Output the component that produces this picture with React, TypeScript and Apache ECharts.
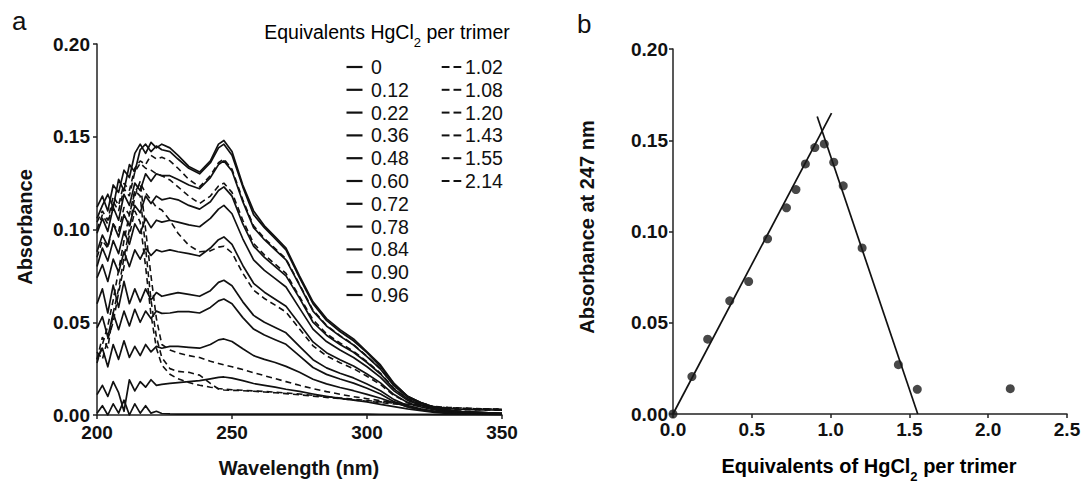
import React, { useEffect, useRef } from 'react';
import * as echarts from 'echarts';

const FONT = '"Liberation Sans", Arial, Helvetica, sans-serif';

// ---------- Panel a: UV spectra ----------
const WAVELENGTHS = [200, 202, 204, 206, 208, 210, 212, 214, 216, 218, 220, 222, 224, 227, 230, 234, 238, 242, 245, 247, 250, 254, 258, 262, 266, 270, 275, 280, 285, 290, 295, 300, 305, 310, 315, 320, 325, 330, 335, 340, 345, 350];

const spec000 = [0.001, 0.005, 0.000, 0.006, 0.001, 0.008, 0.000, 0.006, 0.001, 0.005, 0.001, 0.002, 0.0008, 0.0006, 0.0005, 0.0005, 0.0005, 0.0005, 0.0005, 0.0005, 0.0005, 0.0005, 0.0005, 0.0005, 0.0005, 0.0005, 0.0005, 0.0005, 0.0005, 0.0005, 0.0005, 0.0005, 0.0004, 0.0004, 0.0004, 0.0004, 0.0003, 0.0003, 0.0003, 0.0003, 0.0003, 0.0003];
const spec012 = [0.011, 0.016, 0.010, 0.018, 0.012, 0.002, 0.019, 0.013, 0.018, 0.015, 0.019, 0.016, 0.0165, 0.017, 0.0175, 0.018, 0.0185, 0.0195, 0.0203, 0.0205, 0.0199, 0.0185, 0.017, 0.016, 0.015, 0.0139, 0.0127, 0.0113, 0.010, 0.009, 0.008, 0.007, 0.0057, 0.0045, 0.0033, 0.0023, 0.0014, 0.0009, 0.0006, 0.0004, 0.0003, 0.0002];
const spec022 = [0.030, 0.036, 0.026, 0.038, 0.030, 0.040, 0.031, 0.037, 0.032, 0.038, 0.034, 0.037, 0.036, 0.037, 0.037, 0.0365, 0.036, 0.038, 0.0405, 0.041, 0.0396, 0.0357, 0.032, 0.030, 0.0283, 0.0262, 0.023, 0.0193, 0.0168, 0.0148, 0.0131, 0.0111, 0.009, 0.0066, 0.0045, 0.0029, 0.0018, 0.0012, 0.0008, 0.0006, 0.0005, 0.0004];
const spec036 = [0.047, 0.053, 0.042, 0.055, 0.046, 0.056, 0.048, 0.057, 0.050, 0.056, 0.052, 0.056, 0.0548, 0.055, 0.0557, 0.0557, 0.055, 0.058, 0.0615, 0.0625, 0.060, 0.0525, 0.0463, 0.0431, 0.0406, 0.0381, 0.0319, 0.0256, 0.0219, 0.0194, 0.0172, 0.0144, 0.0113, 0.0072, 0.0044, 0.0028, 0.0018, 0.0011, 0.0008, 0.0006, 0.0005, 0.0004];
const spec048 = [0.060, 0.068, 0.055, 0.070, 0.058, 0.072, 0.060, 0.068, 0.061, 0.068, 0.062, 0.066, 0.064, 0.065, 0.066, 0.065, 0.064, 0.067, 0.0715, 0.0726, 0.0697, 0.061, 0.0537, 0.050, 0.0472, 0.0443, 0.037, 0.0298, 0.0254, 0.0225, 0.020, 0.0167, 0.0131, 0.0083, 0.0051, 0.0033, 0.002, 0.0013, 0.0009, 0.0007, 0.0006, 0.0005];
const spec060 = [0.074, 0.081, 0.072, 0.084, 0.077, 0.088, 0.080, 0.089, 0.084, 0.090, 0.086, 0.089, 0.088, 0.089, 0.088, 0.087, 0.0857, 0.090, 0.0945, 0.096, 0.092, 0.0806, 0.071, 0.0662, 0.0624, 0.0586, 0.049, 0.0394, 0.0336, 0.0298, 0.0264, 0.0221, 0.0173, 0.011, 0.0067, 0.0043, 0.0027, 0.0017, 0.0012, 0.001, 0.0008, 0.0006];
const spec072 = [0.080, 0.090, 0.083, 0.094, 0.087, 0.099, 0.092, 0.103, 0.098, 0.106, 0.101, 0.105, 0.104, 0.105, 0.104, 0.1025, 0.1015, 0.106, 0.111, 0.113, 0.1085, 0.095, 0.0836, 0.078, 0.0735, 0.069, 0.0576, 0.0463, 0.0396, 0.035, 0.031, 0.026, 0.0203, 0.013, 0.0079, 0.0051, 0.0032, 0.002, 0.0015, 0.0011, 0.0009, 0.0007];
const spec078 = [0.088, 0.097, 0.091, 0.103, 0.096, 0.108, 0.102, 0.113, 0.109, 0.118, 0.114, 0.118, 0.116, 0.117, 0.116, 0.113, 0.111, 0.115, 0.121, 0.123, 0.118, 0.103, 0.091, 0.085, 0.080, 0.075, 0.063, 0.050, 0.043, 0.038, 0.0338, 0.0283, 0.0221, 0.0141, 0.0086, 0.0055, 0.0034, 0.0022, 0.0016, 0.0012, 0.001, 0.0007];
const spec084 = [0.098, 0.106, 0.099, 0.112, 0.105, 0.119, 0.113, 0.125, 0.121, 0.130, 0.126, 0.130, 0.129, 0.129, 0.127, 0.124, 0.122, 0.128, 0.135, 0.137, 0.1315, 0.115, 0.101, 0.0945, 0.089, 0.0836, 0.070, 0.056, 0.048, 0.0425, 0.0377, 0.0315, 0.0247, 0.0158, 0.0096, 0.0062, 0.0038, 0.0025, 0.0018, 0.0014, 0.0011, 0.0008];
const spec090 = [0.106, 0.113, 0.119, 0.112, 0.127, 0.121, 0.135, 0.131, 0.143, 0.146, 0.142, 0.145, 0.143, 0.142, 0.138, 0.133, 0.130, 0.136, 0.144, 0.146, 0.140, 0.123, 0.108, 0.101, 0.095, 0.089, 0.074, 0.060, 0.051, 0.045, 0.040, 0.0336, 0.026, 0.0168, 0.0102, 0.0066, 0.0041, 0.0026, 0.0019, 0.0015, 0.0012, 0.0009];
const spec096 = [0.112, 0.118, 0.110, 0.124, 0.120, 0.132, 0.128, 0.141, 0.146, 0.141, 0.147, 0.144, 0.146, 0.144, 0.140, 0.134, 0.131, 0.137, 0.146, 0.148, 0.142, 0.124, 0.110, 0.102, 0.096, 0.090, 0.075, 0.061, 0.052, 0.046, 0.041, 0.034, 0.027, 0.017, 0.010, 0.0067, 0.0041, 0.0027, 0.0019, 0.0015, 0.0012, 0.0009];
const spec102 = [0.104, 0.110, 0.105, 0.118, 0.113, 0.125, 0.121, 0.133, 0.137, 0.135, 0.140, 0.138, 0.139, 0.137, 0.133, 0.127, 0.123, 0.129, 0.136, 0.138, 0.1325, 0.116, 0.102, 0.0952, 0.0897, 0.0842, 0.0704, 0.0566, 0.0483, 0.0428, 0.038, 0.0317, 0.0248, 0.0159, 0.0097, 0.0065, 0.0045, 0.0035, 0.003, 0.0028, 0.0027, 0.0026];
const spec108 = [0.100, 0.108, 0.103, 0.115, 0.110, 0.122, 0.118, 0.131, 0.1357, 0.133, 0.132, 0.130, 0.129, 0.1267, 0.123, 0.118, 0.114, 0.118, 0.1235, 0.125, 0.120, 0.105, 0.0925, 0.0863, 0.0813, 0.0763, 0.0638, 0.0513, 0.0438, 0.0388, 0.0344, 0.0288, 0.0225, 0.0144, 0.0088, 0.006, 0.0042, 0.0034, 0.003, 0.0028, 0.0027, 0.0026];
const spec120 = [0.085, 0.094, 0.090, 0.103, 0.099, 0.112, 0.108, 0.120, 0.125, 0.1197, 0.116, 0.112, 0.1105, 0.105, 0.098, 0.0915, 0.088, 0.0885, 0.0905, 0.091, 0.0874, 0.0764, 0.0673, 0.0628, 0.0592, 0.0555, 0.0464, 0.0373, 0.0319, 0.0282, 0.025, 0.0209, 0.0164, 0.0105, 0.0067, 0.005, 0.0038, 0.0032, 0.0029, 0.0028, 0.0027, 0.0026];
const spec143 = [0.030, 0.042, 0.036, 0.055, 0.068, 0.085, 0.100, 0.118, 0.126, 0.100, 0.075, 0.052, 0.038, 0.035, 0.0335, 0.032, 0.031, 0.029, 0.0278, 0.027, 0.026, 0.0245, 0.0228, 0.0212, 0.0196, 0.018, 0.016, 0.0142, 0.0126, 0.0112, 0.0099, 0.0088, 0.0077, 0.0066, 0.0057, 0.0049, 0.0043, 0.0038, 0.0035, 0.0033, 0.0032, 0.0031];
const spec155 = [0.028, 0.038, 0.048, 0.062, 0.078, 0.094, 0.108, 0.121, 0.118, 0.090, 0.062, 0.042, 0.031, 0.025, 0.0235, 0.023, 0.0215, 0.017, 0.014, 0.0135, 0.0133, 0.0131, 0.0128, 0.0124, 0.012, 0.0115, 0.0109, 0.0102, 0.0095, 0.0088, 0.0081, 0.0074, 0.0067, 0.006, 0.0054, 0.0048, 0.0043, 0.0039, 0.0036, 0.0034, 0.0033, 0.0032];
const spec214 = [0.034, 0.030, 0.041, 0.050, 0.066, 0.080, 0.097, 0.110, 0.104, 0.080, 0.054, 0.036, 0.027, 0.022, 0.0195, 0.0175, 0.016, 0.015, 0.0143, 0.0139, 0.0136, 0.0133, 0.013, 0.0127, 0.0123, 0.0119, 0.0113, 0.0106, 0.0099, 0.0092, 0.0085, 0.0078, 0.0071, 0.0064, 0.0057, 0.0051, 0.0046, 0.0041, 0.0038, 0.0035, 0.0033, 0.0031];

const SOLID_LABELS = ['0', '0.12', '0.22', '0.36', '0.48', '0.60', '0.72', '0.78', '0.84', '0.90', '0.96'];
const DASHED_LABELS = ['1.02', '1.08', '1.20', '1.43', '1.55', '2.14'];
const SOLID_SPECTRA = [spec000, spec012, spec022, spec036, spec048, spec060, spec072, spec078, spec084, spec090, spec096];
const DASHED_SPECTRA = [spec102, spec108, spec120, spec143, spec155, spec214];

// ---------- Panel b: titration ----------
const TITRATION_EQ = [0, 0.12, 0.22, 0.36, 0.48, 0.60, 0.72, 0.78, 0.84, 0.90, 0.96, 1.02, 1.08, 1.20, 1.43, 1.55, 2.14];
const ABS_247 = [0.000, 0.0205, 0.041, 0.062, 0.0726, 0.096, 0.113, 0.123, 0.137, 0.146, 0.148, 0.138, 0.125, 0.091, 0.027, 0.0135, 0.0139];
const RISE_X = [0, 1.006];
const RISE_Y = [0, 0.1649];
const FALL_X = [0.915, 1.553];
const FALL_Y = [0.163, 0];

function buildOption() {
  const axisLine = { show: true, onZero: false, lineStyle: { color: '#222', width: 1.5 } };
  const axisTick = { show: true, length: 4, lineStyle: { color: '#222', width: 1.5 } };
  const labelStyle = { fontFamily: FONT, fontWeight: 'bold' as const, fontSize: 19, color: '#111' };

  const specSeries: any[] = [];
  SOLID_SPECTRA.forEach((vals, i) => {
    specSeries.push({
      name: SOLID_LABELS[i],
      type: 'line',
      xAxisIndex: 0,
      yAxisIndex: 0,
      symbol: 'none',
      smooth: false,
      lineStyle: { color: '#111', width: 1.7, type: 'solid', join: 'round' },
      data: WAVELENGTHS.map((w, k) => [w, vals[k]]),
    });
  });
  DASHED_SPECTRA.forEach((vals, i) => {
    specSeries.push({
      name: DASHED_LABELS[i],
      type: 'line',
      xAxisIndex: 0,
      yAxisIndex: 0,
      symbol: 'none',
      smooth: false,
      lineStyle: { color: '#111', width: 1.6, type: [6, 4] },
      data: WAVELENGTHS.map((w, k) => [w, vals[k]]),
    });
  });

  const rowY = (i: number) => 67 + 22.8 * i;
  const legendEls: any[] = [];
  SOLID_LABELS.forEach((lab, i) => {
    legendEls.push({ type: 'line', shape: { x1: 346.5, y1: rowY(i), x2: 362.5, y2: rowY(i) }, style: { stroke: '#111', lineWidth: 2.2 } });
    legendEls.push({ type: 'text', x: 371, y: rowY(i), style: { text: lab, font: `19.5px ${FONT}`, fill: '#111', align: 'left', verticalAlign: 'middle' } });
  });
  DASHED_LABELS.forEach((lab, i) => {
    legendEls.push({ type: 'line', shape: { x1: 441.7, y1: rowY(i), x2: 449.5, y2: rowY(i) }, style: { stroke: '#111', lineWidth: 2 } });
    legendEls.push({ type: 'line', shape: { x1: 453.5, y1: rowY(i), x2: 461.3, y2: rowY(i) }, style: { stroke: '#111', lineWidth: 2 } });
    legendEls.push({ type: 'text', x: 465, y: rowY(i), style: { text: lab, font: `19.5px ${FONT}`, fill: '#111', align: 'left', verticalAlign: 'middle' } });
  });

  const subRich = (size: number, weight: string, color: string) => ({
    m: { fontFamily: FONT, fontSize: size, fontWeight: weight, color, lineHeight: 34, verticalAlign: 'middle' },
    s: { fontFamily: FONT, fontSize: Math.round(size * 0.66), fontWeight: weight, color, lineHeight: 13, verticalAlign: 'bottom' },
  });

  return {
    animation: false,
    backgroundColor: '#ffffff',
    grid: [
      { left: 97, top: 44, width: 405, height: 371, containLabel: false },
      { left: 673, top: 49, width: 394, height: 365, containLabel: false },
    ],
    xAxis: [
      {
        gridIndex: 0, type: 'value', min: 200, max: 350, interval: 50,
        axisLine, axisTick, splitLine: { show: false },
        axisLabel: { ...labelStyle, margin: 8, formatter: (v: number) => String(v) },
      },
      {
        gridIndex: 1, type: 'value', min: 0, max: 2.5, interval: 0.5,
        axisLine, axisTick, splitLine: { show: false },
        axisLabel: { ...labelStyle, margin: 6, formatter: (v: number) => v.toFixed(1) },
      },
    ],
    yAxis: [
      {
        gridIndex: 0, type: 'value', min: 0, max: 0.2, interval: 0.05,
        axisLine, axisTick, splitLine: { show: false },
        axisLabel: { ...labelStyle, margin: 7, formatter: (v: number) => v.toFixed(2) },
      },
      {
        gridIndex: 1, type: 'value', min: 0, max: 0.2, interval: 0.05,
        axisLine, axisTick, splitLine: { show: false },
        axisLabel: { ...labelStyle, margin: 5, formatter: (v: number) => v.toFixed(2) },
      },
    ],
    series: [
      ...specSeries,
      {
        name: 'Rise fit', type: 'line', xAxisIndex: 1, yAxisIndex: 1, symbol: 'none',
        lineStyle: { color: '#111', width: 1.7 },
        data: RISE_X.map((x, i) => [x, RISE_Y[i]]),
      },
      {
        name: 'Fall fit', type: 'line', xAxisIndex: 1, yAxisIndex: 1, symbol: 'none',
        lineStyle: { color: '#111', width: 1.7 },
        data: FALL_X.map((x, i) => [x, FALL_Y[i]]),
      },
      {
        name: 'Absorbance at 247 nm', type: 'scatter', xAxisIndex: 1, yAxisIndex: 1,
        symbol: 'circle', symbolSize: 9, clip: false,
        itemStyle: { color: '#1a1a1a' },
        data: TITRATION_EQ.map((x, i) => [x, ABS_247[i]]),
        z: 5,
      },
    ],
    graphic: [
      { type: 'text', x: 12, y: 21, style: { text: 'a', font: `26px ${FONT}`, fill: '#111', align: 'left', verticalAlign: 'middle' } },
      { type: 'text', x: 577, y: 24, style: { text: 'b', font: `26px ${FONT}`, fill: '#111', align: 'left', verticalAlign: 'middle' } },
      { type: 'text', x: 299, y: 468, style: { text: 'Wavelength (nm)', font: `bold 20px ${FONT}`, fill: '#111', align: 'center', verticalAlign: 'middle' } },
      { type: 'text', x: 25, y: 227, rotation: Math.PI / 2, style: { text: 'Absorbance', font: `bold 20px ${FONT}`, fill: '#111', align: 'center', verticalAlign: 'middle' } },
      { type: 'text', x: 586.5, y: 227, rotation: Math.PI / 2, style: { text: 'Absorbance at 247 nm', font: `bold 20px ${FONT}`, fill: '#111', align: 'center', verticalAlign: 'middle' } },
      {
        type: 'text', x: 869, y: 466,
        style: { text: '{m|Equivalents of HgCl}{s|2}{m| per trimer}', rich: subRich(20, 'bold', '#111'), align: 'center', verticalAlign: 'middle' },
      },
      {
        type: 'text', x: 387, y: 32,
        style: { text: '{m|Equivalents HgCl}{s|2}{m| per trimer}', rich: subRich(19.5, 'normal', '#3c3c5c'), align: 'center', verticalAlign: 'middle' },
      },
      ...legendEls,
    ],
  };
}

export default function App() {
  const ref = useRef<HTMLDivElement>(null);
  useEffect(() => {
    document.body.style.margin = '0';
    const chart = echarts.init(ref.current as HTMLDivElement, null, { renderer: 'svg' });
    chart.setOption(buildOption() as any);
    return () => {
      chart.dispose();
    };
  }, []);
  return <div ref={ref} style={{ width: 1088, height: 483 }} />;
}
